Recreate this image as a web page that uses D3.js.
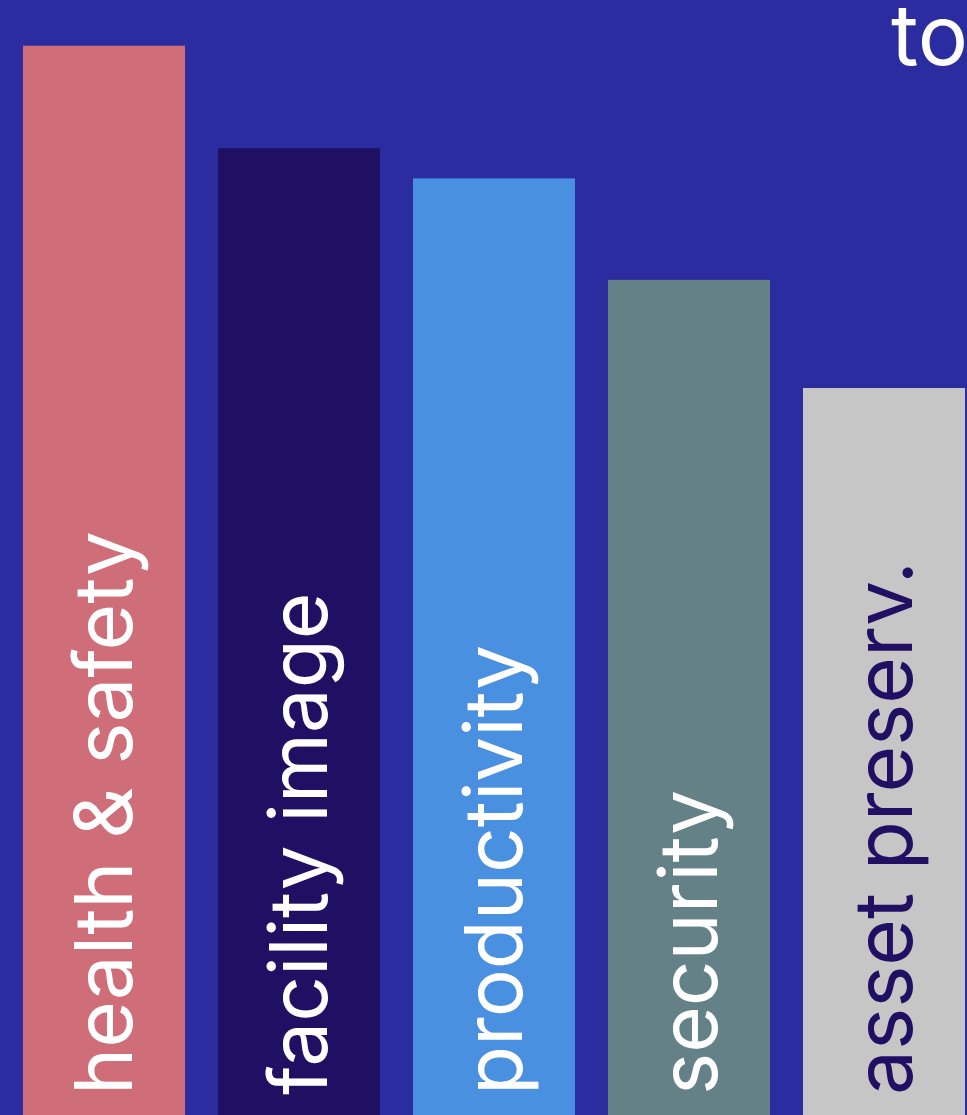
<!DOCTYPE html>
<html>
<head>
<meta charset="utf-8">
<script src="https://cdn.jsdelivr.net/npm/d3@7"></script>
<style>
html,body{margin:0;padding:0;background:#2a2ca0;overflow:hidden;}
svg{display:block;}
</style>
</head>
<body>
<svg id="chart" width="967" height="1115"></svg>
<script>
const categories = ["health & safety", "facility image", "productivity", "security", "asset preserv."];
const values = [95.9, 86.7, 84.0, 74.9, 65.2];
const barColors = ["#cf6e78", "#1f1064", "#4a90e0", "#638187", "#c6c6c6"];
const labelColors = ["#ffffff", "#ffffff", "#ffffff", "#ffffff", "#1f1064"];
const titleText = "top";

const W = 967, H = 1115;
const svg = d3.select("#chart");
svg.append("rect").attr("width", W).attr("height", H).attr("fill", "#2a2ca0");

const x = d3.scaleBand().domain(categories).range([23, 965]).paddingInner(33/195).paddingOuter(0);
const y = d3.scaleLinear().domain([0, 100]).range([H, 0]);

const data = categories.map((c, i) => ({c, v: values[i], fill: barColors[i], lc: labelColors[i]}));

svg.selectAll("rect.bar").data(data).join("rect")
  .attr("class", "bar")
  .attr("x", d => x(d.c))
  .attr("width", x.bandwidth())
  .attr("y", d => y(d.v))
  .attr("height", d => y(0) - y(d.v))
  .attr("fill", d => d.fill);

svg.selectAll("text.lbl").data(data).join("text")
  .attr("class", "lbl")
  .attr("transform", d => `translate(${x(d.c) + x.bandwidth()/2},${H - 20}) rotate(-90)`)
  .attr("dy", "0.35em")
  .attr("text-anchor", "start")
  .attr("font-family", "Inter, sans-serif")
  .attr("font-weight", 400)
  .attr("font-size", 80)
  .attr("fill", d => d.lc)
  .text(d => d.c);

svg.append("text")
  .attr("x", 891)
  .attr("y", 65)
  .attr("font-family", "Inter, sans-serif")
  .attr("font-weight", 400)
  .attr("font-size", 84)
  .attr("fill", "#ffffff")
  .text(titleText);
</script>
</body>
</html>
